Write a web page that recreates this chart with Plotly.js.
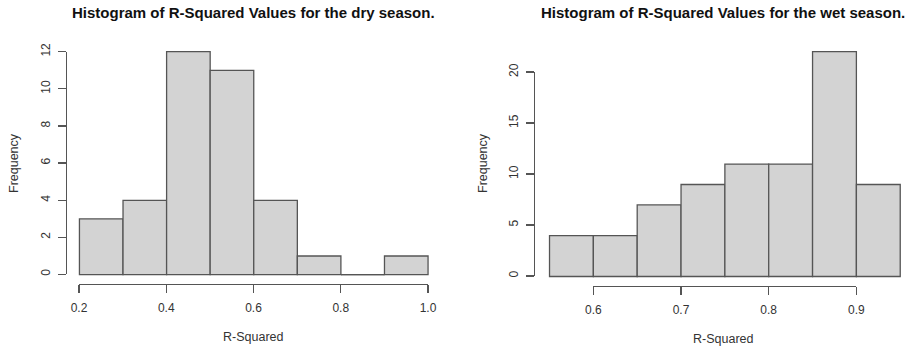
<!DOCTYPE html>
<html>
<head>
<meta charset="utf-8">
<script src="https://cdn.plot.ly/plotly-3.0.1.min.js"></script>
<style>html,body{margin:0;padding:0;background:#fff}#chart{width:909px;height:351px}</style>
</head>
<body>
<div id="chart"></div>
<script>
// ---- data ----
var dryBinEdges = [0.2, 0.3, 0.4, 0.5, 0.6, 0.7, 0.8, 0.9, 1.0];
var dryCounts   = [3, 4, 12, 11, 4, 1, 0, 1];
var wetBinEdges = [0.55, 0.60, 0.65, 0.70, 0.75, 0.80, 0.85, 0.90, 0.95];
var wetCounts   = [4, 4, 7, 9, 11, 11, 22, 9];
var dryXTicks = [0.2, 0.4, 0.6, 0.8, 1.0];
var dryYTicks = [0, 2, 4, 6, 8, 10, 12];
var wetXTicks = [0.6, 0.7, 0.8, 0.9];
var wetYTicks = [0, 5, 10, 15, 20];
var titles = ["Histogram of R-Squared Values for the dry season.", "Histogram of R-Squared Values for the wet season."];
var xTitle = "R-Squared";
var yTitle = "Frequency";

// ---- helpers ----
var W = 909, H = 351;
function fx(p){ return p / W; }
function fy(p){ return 1 - p / H; }
var FONT = "Liberation Sans, Arial, sans-serif";
var TXT = "#333333";
var LINE = "#555555";

function histTraces(edges, counts, xa, ya){
  var centers = [], widths = [];
  for (var i = 0; i < counts.length; i++){
    centers.push((edges[i] + edges[i+1]) / 2);
    widths.push(edges[i+1] - edges[i]);
  }
  var out = [{
    type: 'bar', x: centers, y: counts, width: widths,
    xaxis: xa, yaxis: ya,
    marker: {color: '#d3d3d3', line: {color: LINE, width: 1.3}},
    hoverinfo: 'skip'
  }];
  // zero-count bins are drawn as a flat line (as R does)
  var zx = [], zy = [];
  for (var j = 0; j < counts.length; j++){
    if (counts[j] === 0){ zx.push(edges[j], edges[j+1], null); zy.push(0, 0, null); }
  }
  if (zx.length) out.push({type:'scatter', mode:'lines', x: zx, y: zy, xaxis: xa, yaxis: ya,
    line:{color: LINE, width: 1.3}, hoverinfo:'skip', cliponaxis:false});
  return out;
}

var traces = []
  .concat(histTraces(dryBinEdges, dryCounts, 'x', 'y'))
  .concat(histTraces(wetBinEdges, wetCounts, 'x2', 'y2'));
// dummy traces so display axes are drawn
traces.push({type:'scatter', mode:'none', x:[dryXTicks[0]], y:[dryYTicks[0]], xaxis:'x3', yaxis:'y3', hoverinfo:'skip'});
traces.push({type:'scatter', mode:'none', x:[wetXTicks[0]], y:[wetYTicks[0]], xaxis:'x4', yaxis:'y4', hoverinfo:'skip'});

var hidden = {showline:false, showgrid:false, zeroline:false, showticklabels:false, ticks:''};
function dispAxis(extra){
  var a = {showline:true, linecolor: LINE, linewidth:1.2, ticks:'outside', ticklen:8, tickwidth:1.2,
    tickcolor: LINE, showgrid:false, zeroline:false, tickmode:'array',
    tickfont:{family: FONT, size: 12, color: TXT}, anchor:'free'};
  for (var k in extra) a[k] = extra[k];
  return a;
}

var layout = {
  width: W, height: H,
  margin: {l:0, r:0, t:0, b:0},
  paper_bgcolor: '#ffffff', plot_bgcolor: 'rgba(0,0,0,0)',
  showlegend: false, hovermode: false,
  xaxis:  Object.assign({}, hidden, {domain:[fx(65.5), fx(442)], range:[0.168, 1.032], anchor:'y'}),
  yaxis:  Object.assign({}, hidden, {domain:[fy(283.5), fy(42.8)], range:[-0.48, 12.48], anchor:'x'}),
  xaxis2: Object.assign({}, hidden, {domain:[fx(534), 1], range:[0.5323, 0.9600], anchor:'y2'}),
  yaxis2: Object.assign({}, hidden, {domain:[fy(285.5), fy(42.6)], range:[-0.88, 22.88], anchor:'x2'}),
  xaxis3: dispAxis({domain:[fx(79), fx(428)], range:[dryXTicks[0], dryXTicks[dryXTicks.length-1]],
    position: fy(283.5), tickvals: dryXTicks, ticktext: dryXTicks.map(function(v){return v.toFixed(1);}),
    ticklabelstandoff: 5}),
  yaxis3: dispAxis({domain:[fy(274.3), fy(51.7)], range:[dryYTicks[0], dryYTicks[dryYTicks.length-1]],
    position: fx(65.5), tickvals: dryYTicks, ticktext: dryYTicks.map(String), tickangle:-90,
    ticklabelstandoff: 3}),
  xaxis4: dispAxis({domain:[fx(593.3), fx(856.3)], range:[wetXTicks[0], wetXTicks[wetXTicks.length-1]],
    position: fy(285.7), tickvals: wetXTicks, ticktext: wetXTicks.map(function(v){return v.toFixed(1);}),
    ticklabelstandoff: 5}),
  yaxis4: dispAxis({domain:[fy(276), fy(72)], range:[wetYTicks[0], wetYTicks[wetYTicks.length-1]],
    position: fx(534), tickvals: wetYTicks, ticktext: wetYTicks.map(String), tickangle:-90,
    ticklabelstandoff: 3}),
  annotations: [
    {text: '<b>' + titles[0] + '</b>', x: fx(253), y: fy(13), xref:'paper', yref:'paper', showarrow:false,
      xanchor:'center', yanchor:'middle', font:{family: FONT, size: 15, color:'#111'}},
    {text: '<b>' + titles[1] + '</b>', x: fx(723), y: fy(13), xref:'paper', yref:'paper', showarrow:false,
      xanchor:'center', yanchor:'middle', font:{family: FONT, size: 15, color:'#111'}},
    {text: xTitle, x: fx(253), y: fy(337), xref:'paper', yref:'paper', showarrow:false,
      xanchor:'center', yanchor:'middle', font:{family: FONT, size: 12.5, color: TXT}},
    {text: xTitle, x: fx(723), y: fy(339), xref:'paper', yref:'paper', showarrow:false,
      xanchor:'center', yanchor:'middle', font:{family: FONT, size: 12.5, color: TXT}},
    {text: yTitle, x: fx(14), y: fy(163), xref:'paper', yref:'paper', showarrow:false, textangle:-90,
      xanchor:'center', yanchor:'middle', font:{family: FONT, size: 12.5, color: TXT}},
    {text: yTitle, x: fx(483), y: fy(163), xref:'paper', yref:'paper', showarrow:false, textangle:-90,
      xanchor:'center', yanchor:'middle', font:{family: FONT, size: 12.5, color: TXT}}
  ]
};

Plotly.newPlot('chart', traces, layout, {staticPlot:true, displayModeBar:false});
</script>
</body>
</html>
